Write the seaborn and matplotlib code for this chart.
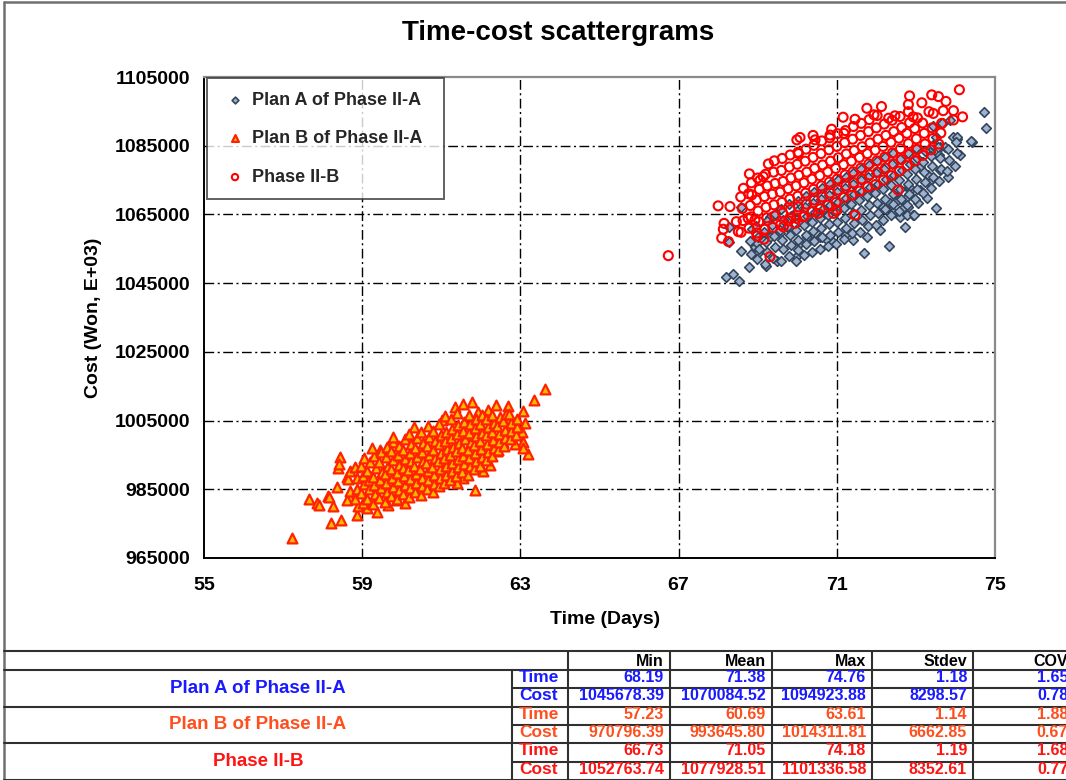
import matplotlib
matplotlib.use("Agg")
import matplotlib.pyplot as plt
import seaborn as sns
import pandas as pd
from matplotlib.lines import Line2D

sns.set_theme(style="white")
plt.rcParams['font.family'] = ['Liberation Sans', 'DejaVu Sans']
plt.rcParams['font.weight'] = 'bold'

# ---------------- data ----------------
title = "Time-cost scattergrams"
x_label = "Time (Days)"
y_label = "Cost (Won, E+03)"
x_ticks = [55, 59, 63, 67, 71, 75]
y_ticks = [965000, 985000, 1005000, 1025000, 1045000, 1065000, 1085000, 1105000]

series_names = ["Plan A of Phase II-A", "Plan B of Phase II-A", "Phase II-B"]

# Plan A of Phase II-A (time, cost)
planA_points = [
    (68.20, 1046900), (68.38, 1047700), (68.53, 1045700), (68.28, 1061400), (68.28, 1056900),
    (68.57, 1054400), (68.59, 1067300), (68.93, 1055600), (69.02, 1053700), (68.97, 1056600),
    (69.21, 1050000), (69.48, 1051300), (69.30, 1058500), (69.31, 1064300), (69.56, 1059500),
    (69.73, 1061400), (69.98, 1052700), (70.07, 1056600), (70.24, 1058500), (70.58, 1058500),
    (70.75, 1057600), (70.91, 1057100), (71.21, 1059000), (71.42, 1057600), (71.68, 1053700),
    (71.76, 1058500), (72.31, 1055800), (72.09, 1060500), (72.72, 1061400), (72.93, 1064800),
    (73.27, 1069700), (73.51, 1066800), (73.82, 1076000), (73.61, 1077900), (74.11, 1082300),
    (74.41, 1086200), (74.76, 1090300), (74.72, 1094700), (74.03, 1086900), (73.95, 1087500),
    (73.69, 1091500), (73.86, 1092500), (73.52, 1087600), (73.61, 1084700), (73.36, 1083300),
    (73.15, 1080300), (72.85, 1072100), (72.76, 1069700), (72.51, 1070200), (72.60, 1064300),
    (72.43, 1065800), (73.58, 1082300), (73.73, 1084500), (73.34, 1074500), (73.31, 1076500),
    (73.10, 1072100), (73.06, 1068200), (72.81, 1067300), (72.77, 1064800), (72.95, 1064800),
    (72.68, 1066800), (72.55, 1069200), (72.35, 1068200), (72.18, 1067300), (72.83, 1073100),
    (73.10, 1078900), (73.44, 1090700), (73.65, 1091700), (74.39, 1086400), (74.05, 1087600),
    (68.78, 1049800), (68.83, 1053600), (68.80, 1057400), (68.85, 1060900),
    (68.98, 1051900), (69.03, 1055000), (69.01, 1058300), (68.96, 1061600),
    (69.18, 1050600), (69.23, 1054100), (69.21, 1057000), (69.17, 1059900), (69.24, 1063200),
    (69.38, 1052300), (69.43, 1055500), (69.41, 1058700), (69.37, 1061800), (69.44, 1065000),
    (69.58, 1051400), (69.63, 1054800), (69.61, 1057700), (69.57, 1060600), (69.64, 1063400), (69.60, 1066500),
    (69.78, 1052900), (69.83, 1056000), (69.81, 1058900), (69.77, 1061700), (69.84, 1064600), (69.80, 1067900),
    (69.98, 1051500), (70.03, 1054700), (70.01, 1057600), (69.97, 1060400), (70.04, 1063100), (70.00, 1065900), (70.02, 1069000),
    (70.18, 1053200), (70.23, 1056300), (70.21, 1059100), (70.17, 1061800), (70.24, 1064500), (70.20, 1067300), (70.22, 1070400),
    (70.38, 1054100), (70.43, 1057400), (70.41, 1060200), (70.37, 1062900), (70.44, 1065600), (70.40, 1068400), (70.42, 1071600),
    (70.58, 1055000), (70.63, 1058300), (70.61, 1061100), (70.57, 1063900), (70.64, 1066700), (70.60, 1069500), (70.62, 1072700),
    (70.78, 1055700), (70.83, 1059000), (70.81, 1062100), (70.77, 1064900), (70.84, 1067700), (70.80, 1070600), (70.82, 1073800),
    (70.98, 1056400), (71.03, 1059800), (71.01, 1062800), (70.97, 1065700), (71.04, 1068600), (71.00, 1071500), (71.02, 1074900),
    (71.18, 1057900), (71.23, 1061000), (71.21, 1064000), (71.17, 1066800), (71.24, 1069700), (71.20, 1072600), (71.22, 1076000),
    (71.38, 1059600), (71.43, 1062500), (71.41, 1065400), (71.37, 1068100), (71.44, 1070900), (71.40, 1073800), (71.42, 1077100),
    (71.58, 1060000), (71.63, 1063300), (71.61, 1066300), (71.57, 1069100), (71.64, 1071900), (71.60, 1074900), (71.62, 1078300),
    (71.78, 1061500), (71.83, 1064700), (71.81, 1067600), (71.77, 1070300), (71.84, 1073100), (71.80, 1076000), (71.82, 1079400),
    (71.98, 1062000), (72.03, 1065400), (72.01, 1068400), (71.97, 1071200), (72.04, 1074000), (72.00, 1077000), (72.02, 1080500),
    (72.18, 1063300), (72.23, 1066600), (72.21, 1069600), (72.17, 1072400), (72.24, 1075200), (72.20, 1078200), (72.22, 1081600),
    (72.38, 1064900), (72.43, 1068000), (72.41, 1070900), (72.37, 1073700), (72.44, 1076500), (72.40, 1079600), (72.42, 1082900),
    (72.58, 1066100), (72.63, 1069400), (72.61, 1072300), (72.57, 1075100), (72.64, 1077900), (72.60, 1081000),
    (72.78, 1067800), (72.83, 1071000), (72.81, 1073900), (72.77, 1076700), (72.84, 1079600), (72.80, 1082800),
    (72.98, 1069400), (73.03, 1072500), (73.01, 1075400), (72.97, 1078300), (73.04, 1081300), (73.00, 1084400),
    (73.18, 1071200), (73.23, 1074300), (73.21, 1077300), (73.17, 1080300), (73.24, 1083500),
    (73.38, 1072600), (73.43, 1075900), (73.41, 1079000), (73.37, 1082000), (73.44, 1085300),
    (73.58, 1074800), (73.63, 1078200), (73.61, 1081400), (73.57, 1084600),
    (73.78, 1077500), (73.83, 1080800), (73.81, 1083900),
    (73.98, 1079200), (74.03, 1083000), (74.01, 1086000),
]

# Plan B of Phase II-A (time, cost)
planB_points = [
    (57.22, 970700), (57.65, 982100), (57.85, 980900), (57.90, 980500), (58.20, 975100),
    (58.46, 976200), (58.44, 994300), (58.40, 991100), (58.42, 992500), (58.13, 983000),
    (58.27, 980100), (58.86, 977500), (59.37, 978500), (60.08, 981000), (61.85, 984800),
    (63.20, 995300), (63.34, 1011000), (63.61, 1014300), (63.07, 1007900), (62.68, 1009300),
    (62.38, 1009600), (61.77, 1010300), (61.56, 1009700), (61.35, 1009000), (61.01, 1005200),
    (60.31, 1003100), (59.78, 998900), (59.45, 996400), (58.61, 988700), (58.36, 985800),
    (58.16, 982900), (58.69, 982400), (58.90, 980100), (59.13, 979500), (59.66, 980400),
    (59.87, 981900), (63.11, 1004200), (63.03, 1001800), (63.07, 998900), (63.07, 997000),
    (62.86, 998200), (62.57, 998900), (62.40, 996000), (62.23, 992100), (62.05, 990300),
    (61.56, 988200), (61.39, 986700), (62.74, 1005700), (62.19, 1008100), (61.94, 1007600),
    (58.62, 981800), (58.68, 984600), (58.64, 987900), (58.70, 990400),
    (58.83, 982100), (58.88, 985000), (58.86, 988300), (58.81, 991500),
    (59.02, 980900), (58.98, 983900), (59.04, 986400), (59.01, 988900), (58.97, 991800), (59.05, 994200),
    (59.13, 982300), (59.18, 985100), (59.16, 987800), (59.12, 990200), (59.19, 993000),
    (59.28, 980600), (59.33, 983700), (59.31, 986200), (59.27, 988700), (59.34, 991300), (59.30, 994600), (59.26, 997000),
    (59.43, 982400), (59.47, 985300), (59.45, 987600), (59.49, 990100), (59.42, 992800), (59.48, 995800),
    (59.58, 981300), (59.62, 984200), (59.61, 986900), (59.57, 989400), (59.64, 991700), (59.60, 994300), (59.63, 997400),
    (59.73, 983000), (59.77, 985600), (59.76, 988400), (59.72, 990900), (59.79, 993500), (59.74, 996200), (59.78, 1000100),
    (59.88, 982100), (59.92, 984900), (59.91, 987300), (59.87, 989800), (59.94, 992200), (59.90, 994900), (59.93, 997600),
    (60.03, 983600), (60.07, 986200), (60.06, 988800), (60.02, 991300), (60.09, 993700), (60.04, 996400), (60.08, 999500),
    (60.18, 982800), (60.22, 985400), (60.21, 988000), (60.17, 990600), (60.24, 993100), (60.20, 995600), (60.23, 998300), (60.19, 1001200),
    (60.33, 984300), (60.37, 986900), (60.36, 989500), (60.32, 991900), (60.39, 994300), (60.34, 996900), (60.38, 999800),
    (60.48, 983400), (60.52, 985900), (60.51, 988400), (60.47, 990900), (60.54, 993300), (60.50, 995800), (60.53, 998400), (60.49, 1001600),
    (60.63, 985200), (60.67, 987700), (60.66, 990300), (60.62, 992700), (60.69, 995100), (60.64, 997600), (60.68, 1000300), (60.66, 1003400),
    (60.78, 984100), (60.82, 986600), (60.81, 989200), (60.77, 991600), (60.84, 994100), (60.80, 996500), (60.83, 999100), (60.79, 1002000),
    (60.93, 985900), (60.97, 988400), (60.96, 990900), (60.92, 993300), (60.99, 995700), (60.94, 998200), (60.98, 1000800), (60.95, 1004100),
    (61.08, 986800), (61.12, 989300), (61.11, 991800), (61.07, 994200), (61.14, 996600), (61.09, 999100), (61.13, 1001700), (61.10, 1006300),
    (61.23, 987700), (61.27, 990200), (61.26, 992600), (61.22, 995000), (61.29, 997400), (61.24, 999900), (61.28, 1002600), (61.25, 1005400),
    (61.38, 989000), (61.42, 991400), (61.41, 993800), (61.37, 996200), (61.44, 998600), (61.39, 1001100), (61.43, 1003800), (61.40, 1007100),
    (61.53, 990000), (61.57, 992400), (61.56, 994800), (61.52, 997100), (61.59, 999500), (61.54, 1002000), (61.58, 1004700),
    (61.68, 989300), (61.72, 991700), (61.71, 994100), (61.67, 996500), (61.74, 998900), (61.69, 1001400), (61.73, 1004000), (61.70, 1006600),
    (61.83, 990800), (61.87, 993200), (61.86, 995600), (61.82, 998000), (61.89, 1000400), (61.84, 1002900), (61.88, 1005600),
    (61.98, 991900), (62.02, 994300), (62.01, 996700), (61.97, 999100), (62.04, 1001500), (61.99, 1004000), (62.03, 1006500),
    (62.13, 993500), (62.17, 995900), (62.16, 998300), (62.12, 1000700), (62.19, 1003100), (62.14, 1005500),
    (62.28, 994600), (62.32, 997000), (62.31, 999400), (62.27, 1001800), (62.34, 1004200), (62.29, 1006700),
    (62.43, 996300), (62.47, 998700), (62.46, 1001100), (62.42, 1003500), (62.49, 1005900),
    (62.58, 997600), (62.62, 1000000), (62.61, 1002400), (62.57, 1004800), (62.64, 1007000),
    (62.73, 999600), (62.77, 1002000), (62.76, 1004400), (62.72, 1006800),
    (62.88, 1000800), (62.92, 1003200), (62.91, 1005500),
]

# Phase II-B (time, cost)
phaseB_points = [
    (66.74, 1053000), (68.00, 1067500), (68.30, 1067300), (68.15, 1062400), (68.13, 1060700),
    (68.09, 1058100), (68.26, 1057100), (68.46, 1062900), (68.51, 1060000), (68.64, 1072600),
    (68.79, 1076800), (68.76, 1063900), (68.93, 1063400), (68.98, 1058700), (69.16, 1057800),
    (69.31, 1052700), (69.27, 1079700), (69.06, 1075000), (69.14, 1076000), (68.85, 1070700),
    (69.99, 1086700), (70.07, 1087400), (70.40, 1088000), (70.45, 1086700), (70.87, 1089800),
    (70.83, 1088100), (71.16, 1093300), (71.18, 1088600), (71.46, 1092700), (71.76, 1095900),
    (71.94, 1094000), (72.13, 1096400), (72.31, 1093000), (72.47, 1093700), (72.81, 1097000),
    (72.84, 1099500), (73.15, 1097500), (73.40, 1099800), (73.57, 1099300), (73.76, 1097900),
    (73.95, 1095200), (73.69, 1095200), (73.44, 1094400), (73.33, 1094900), (73.95, 1092500),
    (73.65, 1091500), (72.93, 1093400), (72.81, 1094900), (72.55, 1072100), (71.46, 1064800),
    (70.91, 1065300), (70.99, 1066300), (70.53, 1065300), (70.15, 1064300), (69.94, 1062400),
    (69.65, 1061400), (69.82, 1063900), (70.03, 1082700), (74.10, 1101300), (74.18, 1093400),
    (68.58, 1059800), (68.63, 1063200), (68.61, 1066700), (68.57, 1070100),
    (68.78, 1061000), (68.83, 1064300), (68.81, 1067600), (68.77, 1071000), (68.84, 1074200),
    (68.98, 1059600), (69.03, 1062900), (69.01, 1066000), (68.97, 1069200), (69.04, 1072300), (69.00, 1075600),
    (69.18, 1060700), (69.23, 1064000), (69.21, 1067100), (69.17, 1070200), (69.24, 1073300), (69.20, 1076700),
    (69.38, 1061200), (69.43, 1064600), (69.41, 1067800), (69.37, 1070900), (69.44, 1074000), (69.40, 1077300), (69.42, 1080600),
    (69.58, 1062000), (69.63, 1065400), (69.61, 1068500), (69.57, 1071500), (69.64, 1074600), (69.60, 1077800), (69.62, 1081300),
    (69.78, 1063100), (69.83, 1066400), (69.81, 1069500), (69.77, 1072500), (69.84, 1075600), (69.80, 1078800), (69.82, 1082300),
    (69.98, 1063900), (70.03, 1067200), (70.01, 1070300), (69.97, 1073300), (70.04, 1076400), (70.00, 1079600), (70.02, 1083100),
    (70.18, 1064500), (70.23, 1068000), (70.21, 1071200), (70.17, 1074200), (70.24, 1077300), (70.20, 1080500), (70.22, 1084000),
    (70.38, 1065800), (70.43, 1069200), (70.41, 1072300), (70.37, 1075300), (70.44, 1078400), (70.40, 1081600), (70.42, 1085100),
    (70.58, 1066600), (70.63, 1070100), (70.61, 1073300), (70.57, 1076300), (70.64, 1079400), (70.60, 1082700), (70.62, 1086400),
    (70.78, 1067700), (70.83, 1071200), (70.81, 1074400), (70.77, 1077400), (70.84, 1080500), (70.80, 1083800), (70.82, 1087300),
    (70.98, 1068500), (71.03, 1072100), (71.01, 1075300), (70.97, 1078400), (71.04, 1081500), (71.00, 1084800), (71.02, 1088500),
    (71.18, 1069900), (71.23, 1073300), (71.21, 1076500), (71.17, 1079500), (71.24, 1082600), (71.20, 1085900), (71.22, 1089400),
    (71.38, 1070600), (71.43, 1074200), (71.41, 1077400), (71.37, 1080500), (71.44, 1083600), (71.40, 1086900), (71.42, 1090600),
    (71.58, 1071800), (71.63, 1075300), (71.61, 1078500), (71.57, 1081600), (71.64, 1084700), (71.60, 1088000), (71.62, 1091500),
    (71.78, 1073000), (71.83, 1076500), (71.81, 1079700), (71.77, 1082700), (71.84, 1085800), (71.80, 1089100), (71.82, 1092600),
    (71.98, 1073700), (72.03, 1077300), (72.01, 1080600), (71.97, 1083700), (72.04, 1086900), (72.00, 1090200), (72.02, 1093800),
    (72.18, 1075000), (72.23, 1078500), (72.21, 1081700), (72.17, 1084800), (72.24, 1088000), (72.20, 1091300),
    (72.38, 1076300), (72.43, 1079700), (72.41, 1082900), (72.37, 1086000), (72.44, 1089100), (72.40, 1092400),
    (72.58, 1077600), (72.63, 1081000), (72.61, 1084100), (72.57, 1087200), (72.64, 1090300), (72.60, 1093500),
    (72.78, 1079200), (72.83, 1082500), (72.81, 1085600), (72.77, 1088600), (72.84, 1091700),
    (72.98, 1080600), (73.03, 1083900), (73.01, 1087000), (72.97, 1090000), (73.04, 1093100),
    (73.18, 1082200), (73.23, 1085500), (73.21, 1088600), (73.17, 1091600),
    (73.38, 1083800), (73.43, 1087100), (73.41, 1090200),
    (73.58, 1085500), (73.63, 1088700),
]

# statistics table
table_cols = ["Min", "Mean", "Max", "Stdev", "COV"]
row_kinds = ["Time", "Cost"]
planA_time_stats = ["68.19", "71.38", "74.76", "1.18", "1.65"]
planA_cost_stats = ["1045678.39", "1070084.52", "1094923.88", "8298.57", "0.78"]
planB_time_stats = ["57.23", "60.69", "63.61", "1.14", "1.88"]
planB_cost_stats = ["970796.39", "993645.80", "1014311.81", "6662.85", "0.67"]
phaseB_time_stats = ["66.73", "71.05", "74.18", "1.19", "1.68"]
phaseB_cost_stats = ["1052763.74", "1077928.51", "1101336.58", "8352.61", "0.77"]

# ---------------- styling ----------------
W, H = 1066, 780
colA_face, colA_edge = "#9fb3cf", "#33455d"
colB_face, colB_edge = "#ffb800", "#ff2200"
colC_edge = "#ff0000"
txt_blue, txt_orange, txt_red = "#1a1aff", "#ff4f1f", "#ff1414"

fig = plt.figure(figsize=(W / 100, H / 100), dpi=100)
fig.patch.set_facecolor("white")
ax = fig.add_axes([204 / W, 1 - 558 / H, 791 / W, 481 / H])
ax.set_facecolor("white")

dfA = pd.DataFrame(planA_points, columns=["Time", "Cost"])
dfB = pd.DataFrame(planB_points, columns=["Time", "Cost"])
dfC = pd.DataFrame(phaseB_points, columns=["Time", "Cost"])

sns.scatterplot(data=dfA, x="Time", y="Cost", ax=ax, marker="D", s=24,
                color=colA_face, edgecolor=colA_edge, linewidth=1.2,
                label=series_names[0], zorder=3)
sns.scatterplot(data=dfB, x="Time", y="Cost", ax=ax, marker="^", s=50,
                color=colB_face, edgecolor=colB_edge, linewidth=1.6,
                label=series_names[1], zorder=4)
sns.scatterplot(data=dfC, x="Time", y="Cost", ax=ax, marker="o", s=42,
                facecolor="none", edgecolor=colC_edge, linewidth=1.5,
                label=series_names[2], zorder=5)

ax.set_xlim(x_ticks[0], x_ticks[-1])
ax.set_ylim(y_ticks[0], y_ticks[-1])
ax.set_xticks(x_ticks, labels=[str(v) for v in x_ticks])
ax.set_yticks(y_ticks, labels=[str(v) for v in y_ticks])
ax.tick_params(axis="both", direction="out", length=5, width=1.2, color="black",
               labelsize=14, pad=5, labelcolor="black")
ax.tick_params(axis="x", pad=9)
for lab in ax.get_xticklabels() + ax.get_yticklabels():
    lab.set_fontweight("bold")

grid_ls = (0, (7, 2.5, 1.5, 2.5))
for v in y_ticks[1:-1]:
    ax.axhline(v, color="black", lw=1.0, ls=grid_ls, zorder=1)
for v in x_ticks[1:-1]:
    ax.axvline(v, color="black", lw=1.0, ls=grid_ls, zorder=1)

for side in ["left", "bottom"]:
    ax.spines[side].set_color("black")
    ax.spines[side].set_linewidth(1.4)
for side in ["top", "right"]:
    ax.spines[side].set_color("#8a8a8a")
    ax.spines[side].set_linewidth(1.6)
for sp in ax.spines.values():
    sp.set_zorder(6)

ax.set_xlabel(x_label, fontsize=14, fontweight="bold", color="black")
ax.set_ylabel(y_label, fontsize=14, fontweight="bold", color="black")
ax.xaxis.set_label_coords((605 - 204) / 791, (558 - 619) / 481)
ax.xaxis.label.set_va("center")
ax.yaxis.set_label_coords((93 - 204) / 791, (558 - 318) / 481)
ax.yaxis.label.set_va("center")

leg = ax.legend(loc="upper left", bbox_to_anchor=(3 / 791, 0.3, 237 / 791, 0.698),
                mode="expand", frameon=True, fancybox=False, borderaxespad=0,
                prop={"weight": "bold", "size": 13}, labelspacing=1.2,
                borderpad=0.75, handlelength=1.6, handletextpad=0.15, markerscale=0.7)
leg.get_frame().set_edgecolor("#3a3a3a")
leg.get_frame().set_linewidth(1.4)
leg.set_zorder(10)

fig.text(558 / W, 1 - 33 / H, title, ha="center", va="center",
         fontsize=20, fontweight="bold", color="black")

# ---------------- frame + table ----------------
line_col = "#303030"


def hline(y, x0, x1, color=line_col, lw=1.5):
    fig.add_artist(Line2D([x0 / W, x1 / W], [1 - y / H, 1 - y / H],
                          transform=fig.transFigure, color=color, lw=lw))


def vline(x, y0, y1, color=line_col, lw=1.5):
    fig.add_artist(Line2D([x / W, x / W], [1 - y0 / H, 1 - y1 / H],
                          transform=fig.transFigure, color=color, lw=lw))


# outer chart border
hline(2, 4, W, color="#707070", lw=1.8)
vline(4, 2, H, color="#707070", lw=1.8)

row_top = 670
row_h = 18.3
rows_y = [row_top + i * row_h for i in range(7)]
hline(651, 4, W)
for i, y in enumerate(rows_y):
    if i % 2 == 0:
        hline(y, 4, W)
    else:
        hline(y, 512, W)
vline(512, row_top, H)
col_edges = [568, 670, 772, 872, 973]
for x in col_edges:
    vline(x, 651, H)
col_rights = [670, 772, 872, 973, 1074]

for name, xr in zip(table_cols, col_rights):
    fig.text((xr - 6) / W, 1 - 661 / H, name, ha="right", va="center",
             fontsize=11.5, fontweight="bold", color="black")

groups = [
    (series_names[0], txt_blue, planA_time_stats, planA_cost_stats),
    (series_names[1], txt_orange, planB_time_stats, planB_cost_stats),
    (series_names[2], txt_red, phaseB_time_stats, phaseB_cost_stats),
]
for g, (gname, gcol, tstats, cstats) in enumerate(groups):
    y_top = rows_y[2 * g]
    fig.text(258 / W, 1 - (y_top + row_h) / H, gname, ha="center", va="center",
             fontsize=13.5, fontweight="bold", color=gcol)
    for r, (kind, stats) in enumerate(zip(row_kinds, [tstats, cstats])):
        yc = y_top + r * row_h + row_h / 2 - 1.5
        fig.text(519 / W, 1 - yc / H, kind, ha="left", va="center",
                 fontsize=12.5, fontweight="bold", color=gcol)
        for val, xr in zip(stats, col_rights):
            fig.text((xr - 6) / W, 1 - yc / H, val, ha="right", va="center",
                     fontsize=11.5, fontweight="bold", color=gcol)

fig.savefig("out.png", dpi=100, facecolor="white")
